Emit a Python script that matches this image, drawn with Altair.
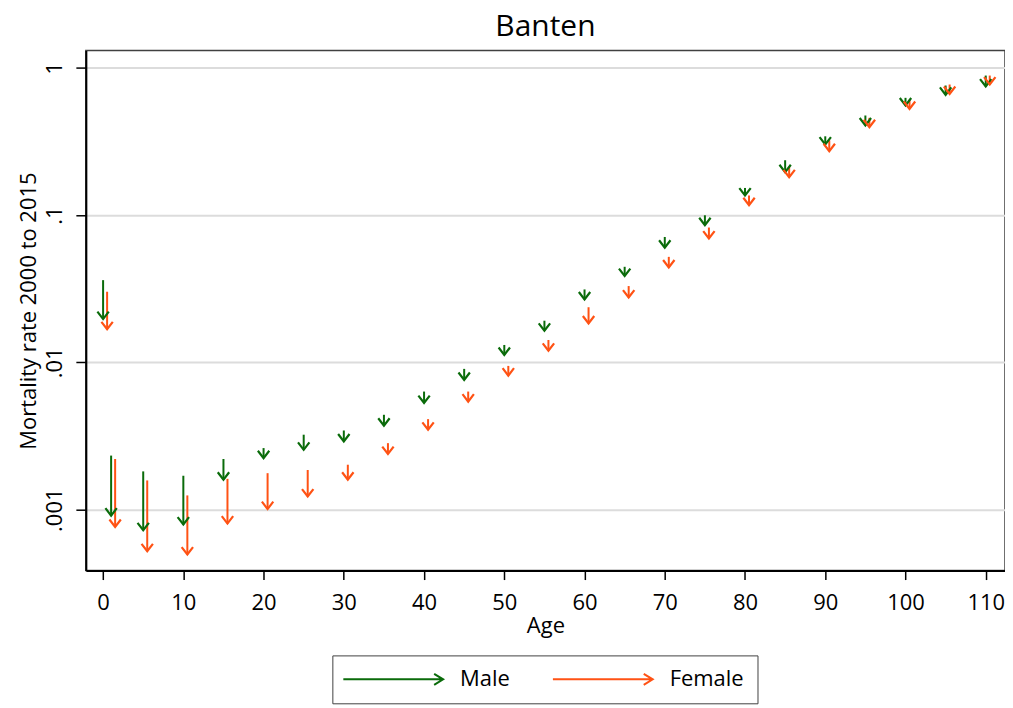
import altair as alt
import pandas as pd

ages = [0, 1, 5, 10, 15, 20, 25, 30, 35, 40, 45, 50, 55, 60, 65, 70, 75, 80, 85, 90, 95, 100, 105, 110]

male_2000 = [0.0362, 0.00233, 0.00182, 0.00170, 0.00221, 0.00262, 0.00323, 0.00345, 0.00441, 0.00634,
             0.00904, 0.01314, 0.0192, 0.0313, 0.0446, 0.0711, 0.0998, 0.153, 0.236, 0.343,
             0.475, 0.626, 0.759, 0.887]
male_2015 = [0.0197, 0.000912, 0.000725, 0.000793, 0.00160, 0.00224, 0.00255, 0.00291, 0.00372, 0.00530,
             0.00761, 0.01125, 0.0164, 0.0268, 0.0386, 0.0602, 0.0855, 0.136, 0.196, 0.302,
             0.407, 0.556, 0.656, 0.747]
female_2000 = [0.0302, 0.00221, 0.00158, 0.00125, 0.00162, 0.00177, 0.00186, 0.00202, 0.00283, 0.00412,
               0.00634, 0.00947, 0.0142, 0.0237, 0.0330, 0.0521, 0.0824, 0.136, 0.214, 0.322,
               0.458, 0.607, 0.771, 0.887]
female_2015 = [0.0168, 0.000764, 0.000522, 0.000496, 0.000805, 0.00101, 0.00123, 0.00160, 0.00239, 0.00349,
               0.00542, 0.00814, 0.0120, 0.0184, 0.0276, 0.0442, 0.0694, 0.117, 0.181, 0.272,
               0.396, 0.527, 0.666, 0.771]

sexes = ["Male", "Female"]
colors = ["#0a6b0a", "#ff5214"]
x_ticks = list(range(0, 111, 10))
y_ticks = [0.001, 0.01, 0.1, 1]

rows = []
for a, s, e in zip(ages, male_2000, male_2015):
    rows.append({"age": a, "sex": "Male", "r2000": s, "r2015": e})
for a, s, e in zip(ages, female_2000, female_2015):
    rows.append({"age": a, "sex": "Female", "r2000": s, "r2015": e})
df = pd.DataFrame(rows)

FONT = "Open Sans"

base = alt.Chart(df).transform_calculate(
    xpos="datum.age + (datum.sex == 'Female' ? 0.5 : 0)"
)

x_enc = alt.X("xpos:Q", title="Age",
              scale=alt.Scale(domain=[-2.15, 112.4], nice=False, zero=False),
              axis=alt.Axis(values=x_ticks, grid=False, tickSize=9, labelPadding=13,
                            titlePadding=2, domainColor="black", domainWidth=2,
                            tickColor="black", tickWidth=1.5, labelFlush=False))
color_enc = alt.Color("sex:N", scale=alt.Scale(domain=sexes, range=colors),
                      legend=alt.Legend(title=None, orient="none", legendX=247, legendY=606,
                                        direction="horizontal", columns=2,
                                        symbolType="M-2.6,0L17.4,0M15.6,-1.1L17.4,0L15.6,1.1",
                                        symbolSize=100, symbolStrokeWidth=2,
                                        symbolFillColor="transparent",
                                        labelOffset=93, columnPadding=39,
                                        padding=13, strokeColor="#404040",
                                        fillColor="white",
                                        labelFontSize=22, labelFont=FONT, labelColor="black"))
y_scale = alt.Scale(type="log", domain=[0.000386, 1.31], nice=False)
y_axis = alt.Axis(values=y_ticks, labelExpr="replace(format(datum.value, '~g'), /^0\\./, '.')",
                  labelAngle=270, labelAlign="center", labelBaseline="bottom",
                  tickSize=10, labelPadding=9, titlePadding=3,
                  domainColor="black", domainWidth=2, tickColor="black", tickWidth=1.5,
                  gridColor="#dcdcdc", gridWidth=2, grid=True)

shafts = base.mark_rule(strokeWidth=2).encode(
    x=x_enc,
    y=alt.Y("r2000:Q", title="Mortality rate 2000 to 2015", scale=y_scale, axis=y_axis),
    y2="r2015:Q",
    color=color_enc,
)

heads = base.mark_point(shape="M-1,-1.3L0,0L1,-1.3", filled=False, size=130,
                        strokeWidth=2.2, opacity=1).encode(
    x=x_enc,
    y=alt.Y("r2015:Q", scale=y_scale),
    color=color_enc,
)

chart = alt.layer(shafts, heads).properties(
    width=921, height=521,
    background="white",
    title=alt.TitleParams("Banten", fontSize=30, font=FONT, fontWeight="normal",
                          color="black", anchor="middle", offset=9),
    autosize=alt.AutoSizeParams(type="none"),
    padding={"left": 78, "top": 42, "right": 0, "bottom": 135},
).configure_view(
    stroke="#404040", strokeWidth=1.5
).configure_axis(
    labelFont=FONT, titleFont=FONT, labelFontSize=22, titleFontSize=22,
    labelColor="black", titleColor="black", titleFontWeight="normal"
)

chart.save("out.html", embed_options={"renderer": "svg", "actions": False})
